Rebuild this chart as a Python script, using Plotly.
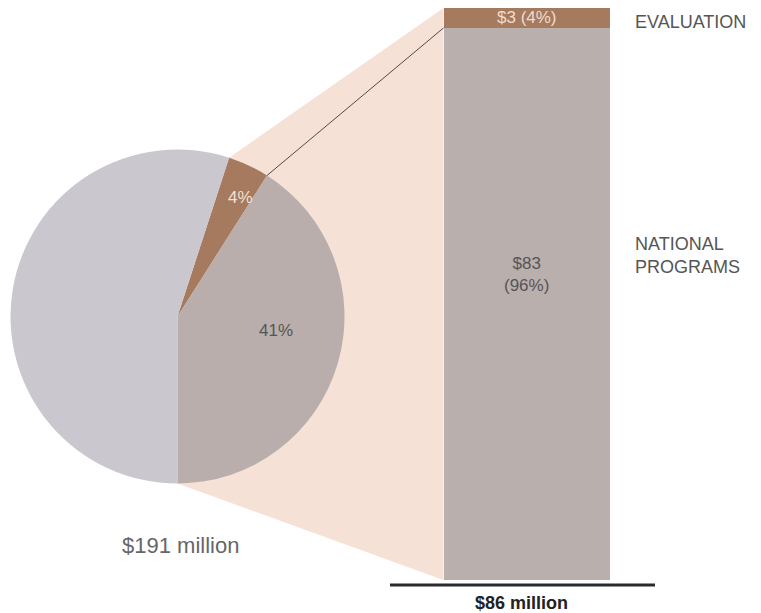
import math
import plotly.graph_objects as go

# ---------------- data ----------------
pie_labels = ["Evaluation", "National programs", "Other"]
pie_values = [4, 41, 55]
pie_text = ["4%", "41%", ""]
pie_total_label = "$191 million"

bar_categories = ["National programs", "Evaluation"]
bar_values = [83, 3]
bar_texts = ["$83<br>(96%)", "$3 (4%)"]
bar_side_labels = ["NATIONAL<br>PROGRAMS", "EVALUATION"]
bar_total_label = "$86 million"

# ---------------- layout geometry ----------------
W, H = 761, 613
BAR_BOTTOM_PX, BAR_TOP_PX = 580, 8
total = sum(bar_values)
SCALE = (BAR_BOTTOM_PX - BAR_TOP_PX) / total


def yv(px):
    """pixel y -> value on the y axis"""
    return (BAR_BOTTOM_PX - px) / SCALE


BAR_X, BAR_W = 526.5, 166
BAR_LEFT = BAR_X - BAR_W / 2

PIE_CX, PIE_CY, PIE_R = 177.5, 316.5, 167
ROT = 18  # degrees, clockwise from 12 o'clock


def pie_point(angle_deg):
    a = math.radians(angle_deg)
    return PIE_CX + PIE_R * math.sin(a), PIE_CY - PIE_R * math.cos(a)


ang0 = ROT
ang1 = ROT + 360 * pie_values[0] / sum(pie_values)
ang2 = ang1 + 360 * pie_values[1] / sum(pie_values)

C_LIGHT = "#cac7cf"
C_MID = "#b9aeab"
C_BROWN = "#a67a5e"
C_PEACH = "#f5e1d5"
C_BAR = "#b9afac"

fig = go.Figure()

fig.add_trace(go.Bar(
    x=[BAR_X], y=[bar_values[0]], width=BAR_W, name=bar_categories[0],
    marker=dict(color=C_BAR, line=dict(width=0)), hoverinfo="skip",
))
fig.add_trace(go.Bar(
    x=[BAR_X], y=[bar_values[1]], width=BAR_W, name=bar_categories[1],
    marker=dict(color=C_BROWN, line=dict(width=0)), hoverinfo="skip",
))

fig.add_trace(go.Pie(
    labels=pie_labels, values=pie_values, sort=False, direction="clockwise",
    rotation=ROT, marker=dict(colors=[C_BROWN, C_MID, C_LIGHT], line=dict(width=0)),
    textinfo="none", hoverinfo="skip", showlegend=False, automargin=False,
    domain=dict(x=[(PIE_CX - PIE_R) / W, (PIE_CX + PIE_R) / W],
                y=[1 - (PIE_CY + PIE_R) / H, 1 - (PIE_CY - PIE_R) / H]),
))

# fan connecting pie slice to bar
p_top = pie_point(ang0)
p_bot = pie_point(ang2)
path = (f"M {p_top[0]},{yv(p_top[1])} L {BAR_LEFT},{total} L {BAR_LEFT},0 "
        f"L {p_bot[0]},{yv(p_bot[1])} L {PIE_CX},{yv(PIE_CY)} Z")
shapes = [
    dict(type="path", path=path, xref="x", yref="y", fillcolor=C_PEACH,
         line=dict(width=0), layer="below"),
]
p_mid = pie_point(ang1)
shapes.append(dict(type="line", xref="x", yref="y", x0=p_mid[0], y0=yv(p_mid[1]),
                   x1=BAR_LEFT, y1=bar_values[0], line=dict(color="#5a4a44", width=1),
                   layer="above"))
shapes.append(dict(type="line", xref="x", yref="y", x0=390, x1=655,
                   y0=yv(585), y1=yv(585), line=dict(color="#2a2a2a", width=3),
                   layer="above"))

FONT = "Liberation Sans, Arial, sans-serif"
ann = []
# bar labels
ann.append(dict(x=BAR_X, y=bar_values[0] + bar_values[1] / 2, text=bar_texts[1],
                font=dict(size=17, color="#f0dccf", family=FONT)))
ann.append(dict(x=BAR_X, y=yv(274), text=bar_texts[0],
                font=dict(size=17, color="#555555", family=FONT)))
ann.append(dict(x=633, y=yv(22), text=bar_side_labels[1], xanchor="left",
                font=dict(size=18, color="#555555", family=FONT)))
ann.append(dict(x=633, y=yv(255), text=bar_side_labels[0], xanchor="left", align="left",
                font=dict(size=18, color="#555555", family=FONT)))
ann.append(dict(x=521, y=yv(603), text="<b>" + bar_total_label + "</b>",
                font=dict(size=18, color="#222222", family=FONT)))
# pie labels
ann.append(dict(x=180, y=yv(545), text=pie_total_label,
                font=dict(size=22, color="#666666", family=FONT)))
ann.append(dict(x=240, y=yv(197), text=pie_text[0],
                font=dict(size=17, color="#f2e0d4", family=FONT)))
ann.append(dict(x=276, y=yv(330), text=pie_text[1],
                font=dict(size=17, color="#555555", family=FONT)))
for a in ann:
    a.update(xref="x", yref="y", showarrow=False)

fig.update_layout(
    width=W, height=H, margin=dict(l=0, r=0, t=0, b=0),
    paper_bgcolor="white", plot_bgcolor="rgba(0,0,0,0)",
    barmode="stack", bargap=0, showlegend=False,
    xaxis=dict(range=[0, W], visible=False, fixedrange=True),
    yaxis=dict(range=[yv(H), yv(0)], visible=False, fixedrange=True),
    shapes=shapes, annotations=ann,
)

fig.write_html("out.html")
